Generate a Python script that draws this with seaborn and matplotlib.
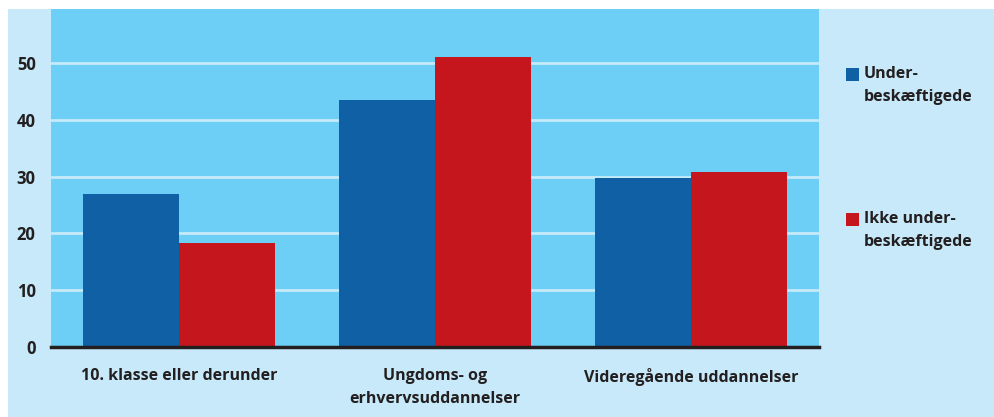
import matplotlib
matplotlib.use("Agg")
import matplotlib.pyplot as plt
from matplotlib.patches import Rectangle
import seaborn as sns
import pandas as pd

categories = ["10. klasse eller derunder", "Ungdoms- og\nerhvervsuddannelser", "Videregående uddannelser"]
series_names = ["Under-\nbeskæftigede", "Ikke under-\nbeskæftigede"]
under = [26.9, 43.5, 29.8]
ikke_under = [18.3, 51.1, 30.8]
yticks = [0, 10, 20, 30, 40, 50]

colors = ["#1060A6", "#C4161C"]
plot_bg = "#6DCFF6"
fig_bg = "#C7E9F9"
txt = "#231F20"

df = pd.DataFrame({
    "kategori": categories * 2,
    "serie": [series_names[0]] * 3 + [series_names[1]] * 3,
    "værdi": under + ikke_under,
})

sns.set_theme(style="white")
plt.rcParams["font.family"] = ["Open Sans", "DejaVu Sans"]
plt.rcParams["font.weight"] = "bold"

fig = plt.figure(figsize=(9.94, 4.17), dpi=100)
fig.patch.set_facecolor("white")
bgrect = Rectangle((8 / 994, 0), 1, 1 - 9 / 417, transform=fig.transFigure,
                   facecolor=fig_bg, edgecolor="none", zorder=-10)
fig.patches.append(bgrect)

ax = fig.add_axes([51 / 994, 1 - 347 / 417, 768 / 994, 338 / 417])
ax.set_zorder(1)
ax.set_facecolor(plot_bg)

sns.barplot(data=df, x="kategori", y="værdi", hue="serie", palette=colors,
            width=0.75, gap=0, ax=ax, legend=False, saturation=1, edgecolor="none")

ax.set_xlim(-0.5, 2.5)
ax.set_ylim(0, 59.5)
ax.set_yticks(yticks)
ax.set_yticklabels([str(t) for t in yticks], fontsize=12, fontweight="bold", color=txt)
ax.set_xticks(range(3))
ax.set_xticklabels(categories, fontsize=11.5, fontweight="bold", color=txt, linespacing=1.6)
ax.tick_params(axis="y", length=0, pad=11)
ax.tick_params(axis="x", length=0, pad=15)
ax.set_xlabel("")
ax.set_ylabel("")
ax.grid(axis="y", color="#C6EAF9", linewidth=2)
ax.set_axisbelow(True)
for s in ["top", "right", "left"]:
    ax.spines[s].set_visible(False)
ax.spines["bottom"].set_color("#231F20")
ax.spines["bottom"].set_linewidth(2.5)
ax.spines["bottom"].set_zorder(5)

# legend
leg_y = [75, 220]
for name, c, yy in zip(series_names, colors, leg_y):
    fig.patches.append(Rectangle((846 / 994, 1 - (yy + 6) / 417), 13 / 994, 13 / 417,
                                 transform=fig.transFigure, facecolor=c, edgecolor="none", zorder=2))
    fig.text(864 / 994, 1 - (yy - 9) / 417, name, fontsize=11.5, fontweight="bold", color=txt,
             va="top", ha="left", linespacing=1.55)

fig.savefig("out.png", dpi=100, facecolor=fig.get_facecolor())
